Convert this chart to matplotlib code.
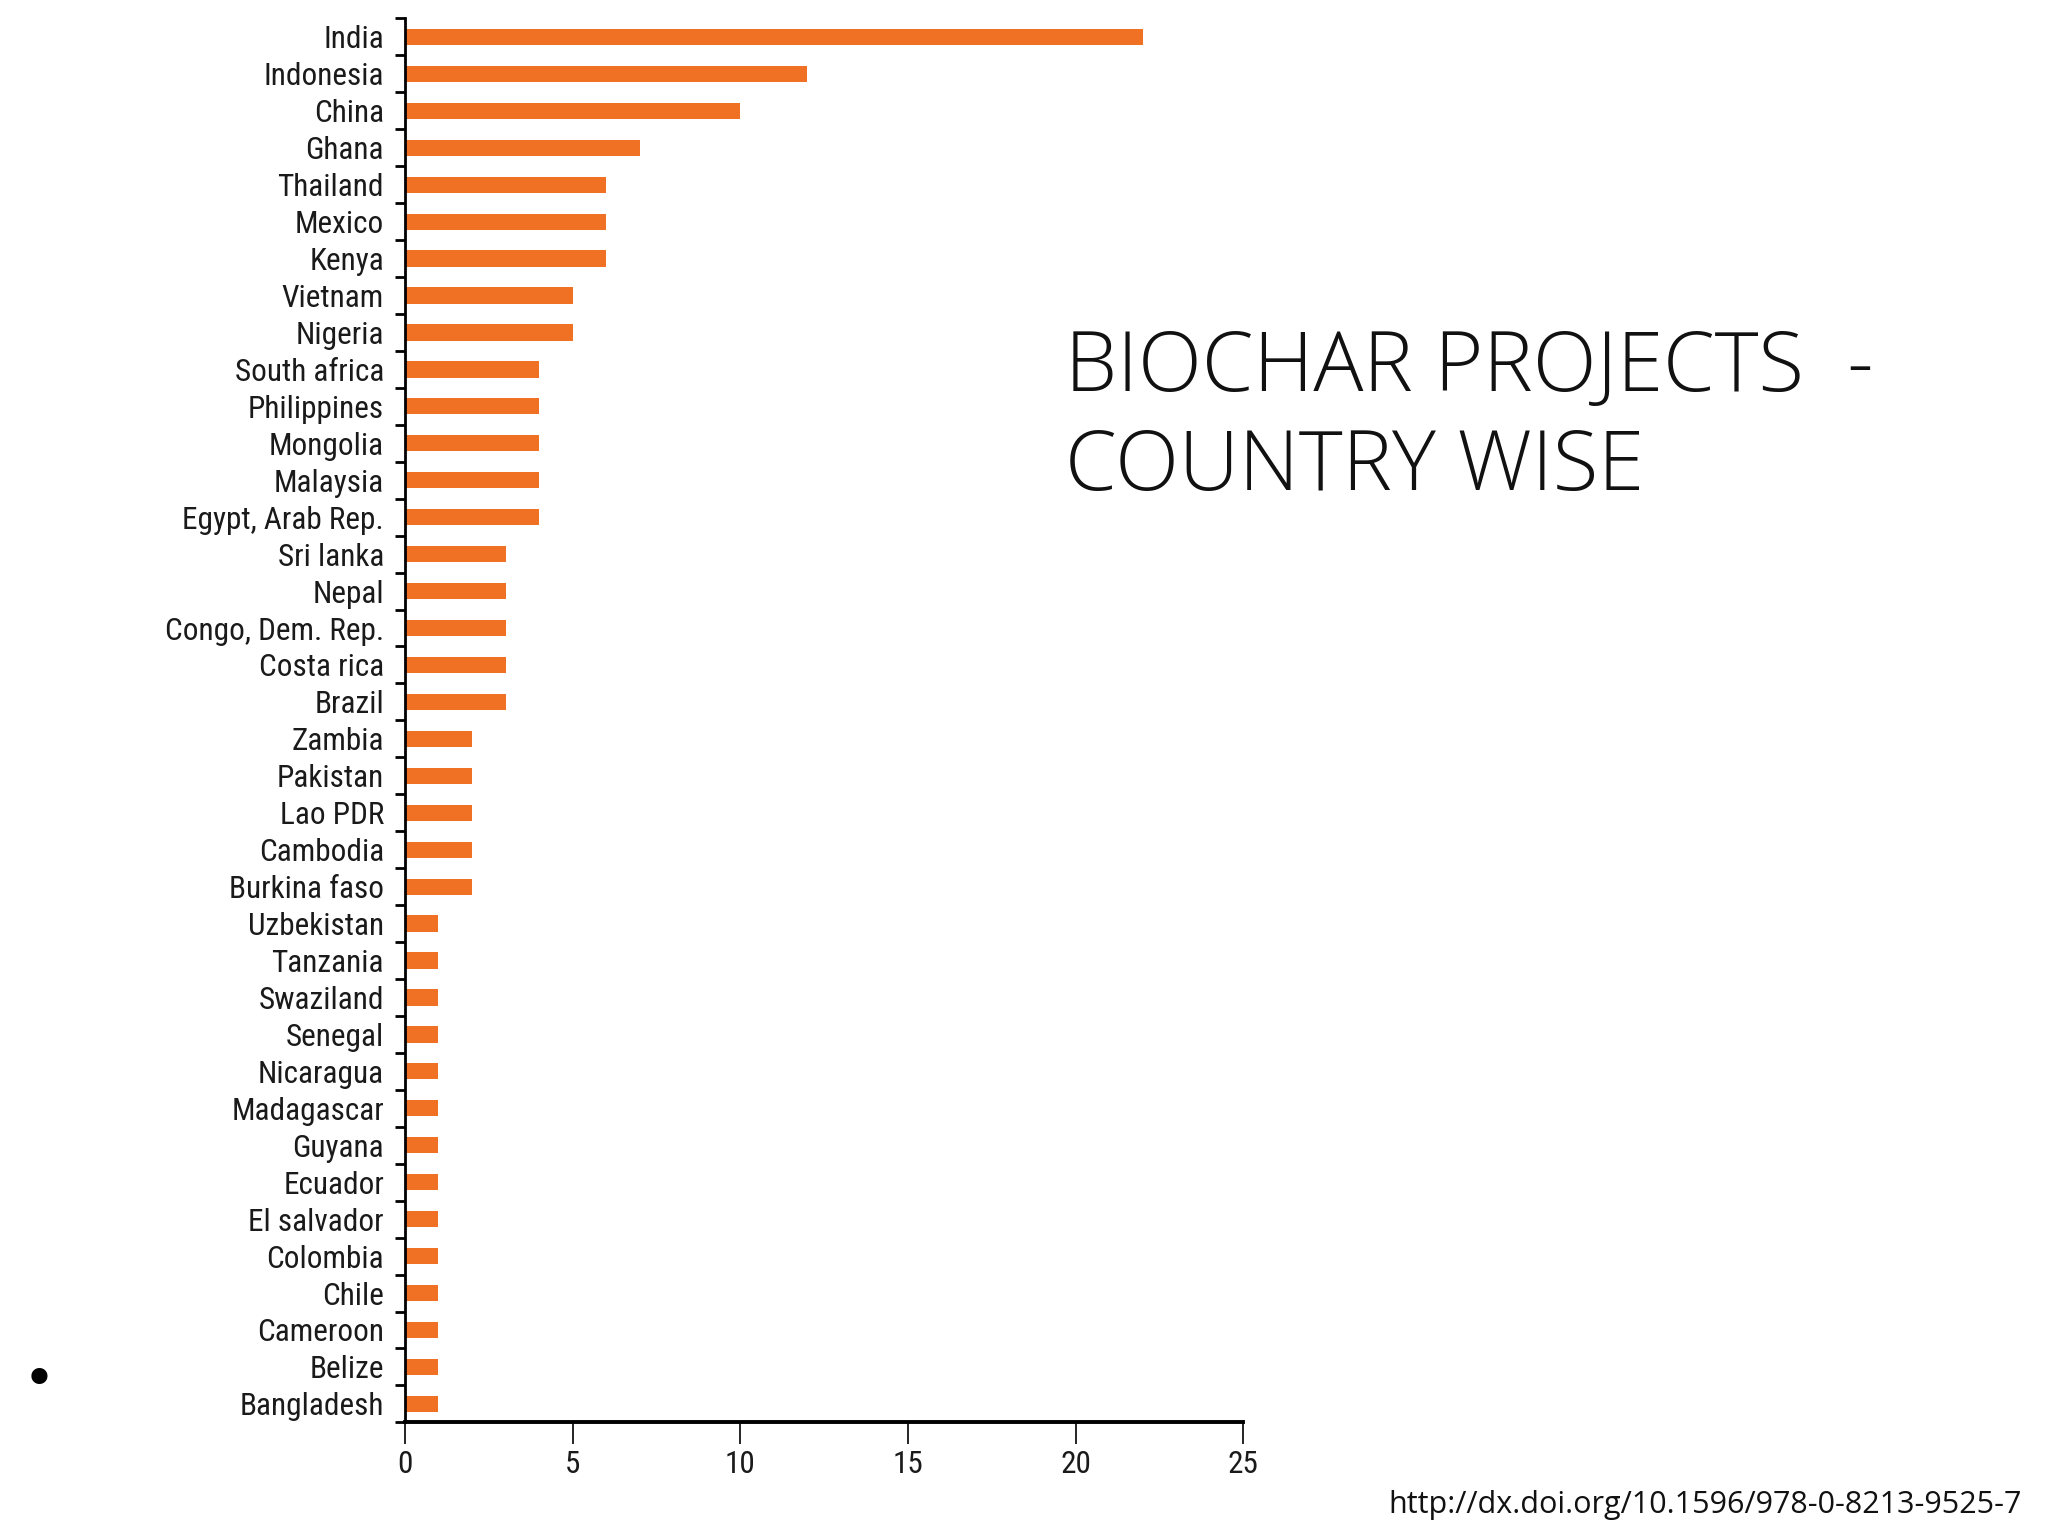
import numpy as np
import matplotlib.pyplot as plt
from matplotlib import font_manager

countries = ["India", "Indonesia", "China", "Ghana", "Thailand", "Mexico", "Kenya",
             "Vietnam", "Nigeria", "South africa", "Philippines", "Mongolia", "Malaysia",
             "Egypt, Arab Rep.", "Sri lanka", "Nepal", "Congo, Dem. Rep.", "Costa rica",
             "Brazil", "Zambia", "Pakistan", "Lao PDR", "Cambodia", "Burkina faso",
             "Uzbekistan", "Tanzania", "Swaziland", "Senegal", "Nicaragua", "Madagascar",
             "Guyana", "Ecuador", "El salvador", "Colombia", "Chile", "Cameroon",
             "Belize", "Bangladesh"]
projects = [22, 12, 10, 7, 6, 6, 6, 5, 5, 4, 4, 4, 4, 4, 3, 3, 3, 3, 3,
            2, 2, 2, 2, 2, 1, 1, 1, 1, 1, 1, 1, 1, 1, 1, 1, 1, 1, 1]
x_ticks = [0, 5, 10, 15, 20, 25]

title = "BIOCHAR PROJECTS  -\nCOUNTRY WISE"
source = "http://dx.doi.org/10.1596/978-0-8213-9525-7"

# pick a narrow face if one is installed
installed = {f.name for f in font_manager.fontManager.ttflist}
narrow = [n for n in ["Liberation Sans Narrow", "Roboto Condensed", "Open Sans Condensed",
                      "DejaVu Sans Condensed"] if n in installed]
label_font = narrow[:1] + ["Roboto", "DejaVu Sans"]
label_size = 22.5 if narrow else 17

fig = plt.figure(figsize=(20.48, 15.36), dpi=100)
ax = fig.add_axes([0.1977, 0.074, 0.4094, 0.914])

y = np.arange(len(countries))
ax.barh(y, projects, height=0.44, color="#f07124")
ax.set_ylim(len(countries) - 0.5, -0.5)
ax.set_xlim(0, 25)

ax.set_yticks(y)
ax.set_yticklabels(countries, fontsize=label_size, family=label_font, color="#1a1a1a")
ax.set_yticks(np.arange(len(countries) + 1) - 0.5, minor=True)
ax.tick_params(axis="y", which="major", length=0, pad=15)
ax.tick_params(axis="y", which="minor", length=7, width=2, direction="out")

ax.set_xticks(x_ticks)
ax.set_xticklabels([str(t) for t in x_ticks], fontsize=label_size, family=label_font,
                   color="#1a1a1a")
ax.tick_params(axis="x", length=16, width=1.2, pad=4)

for s in ["top", "right"]:
    ax.spines[s].set_visible(False)
ax.spines["left"].set_linewidth(2)
ax.spines["bottom"].set_linewidth(2.8)

fig.text(0.52, 0.727, title, fontsize=60, family="Open Sans", fontweight="light",
         va="center", ha="left", linespacing=1.25, color="#111111")
fig.text(0.987, 0.02, source, fontsize=22, family="Open Sans", ha="right", va="center",
         color="#111111")
fig.text(0.019, 0.1, "\u2022", fontsize=40, ha="center", va="center", color="black")

fig.savefig("out.png", dpi=100, facecolor="white")
